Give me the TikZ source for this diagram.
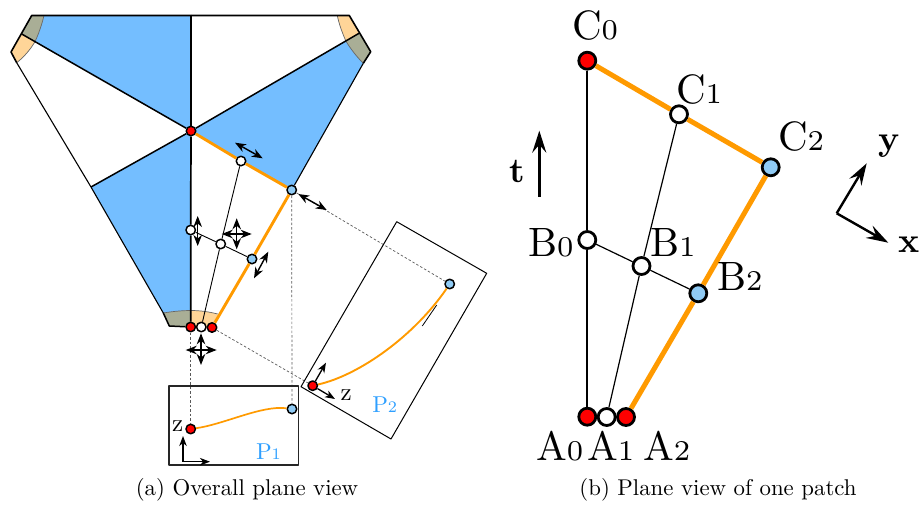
\documentclass[tikz,border=0pt]{standalone}
\usepackage{graphicx}
\usetikzlibrary{arrows.meta}
\definecolor{fanblue}{HTML}{74BEFF}
\definecolor{ptblue}{HTML}{90CBF5}
\definecolor{orangeline}{HTML}{FF9A00}
\definecolor{peach}{HTML}{FFD598}
\definecolor{grayzone}{HTML}{A9AE96}
\definecolor{labelblue}{HTML}{2E9FFF}
\tikzset{
  ptS/.style={circle,draw=black,line width=1.5pt,minimum size=9.5pt,inner sep=0pt},
  ptL/.style={circle,draw=black,line width=2.8pt,minimum size=17pt,inner sep=0pt},
  lab/.style={anchor=base west,inner sep=0pt,outer sep=0pt},
  dbl/.style={{Stealth[length=11pt,width=8.5pt,inset=3.5pt]}-{Stealth[length=11pt,width=8.5pt,inset=3.5pt]},line width=1.4pt},
  axisarrow/.style={-{Stealth[length=10pt,width=7.5pt,inset=3pt]},line width=1.3pt},
  bigarrow/.style={-{Stealth[length=22pt,width=14pt,inset=8pt]},line width=2.4pt},
  dashline/.style={dash pattern=on 2.5pt off 2pt,line width=.7pt,draw=black!65},
}
\newcommand{\biglab}[2]{\scalebox{4.1}{\fontsize{10}{10}\selectfont #1\fontsize{7}{7}\selectfont #2}}
\newcommand{\smalllab}[2]{\scalebox{2.3}{\fontsize{10}{10}\selectfont #1\fontsize{7}{7}\selectfont #2}}
\newcommand{\axislab}[1]{\scalebox{2.5}{\fontsize{10}{10}\selectfont #1}}
\newcommand{\boldlab}[1]{\scalebox{3.5}{\fontsize{10}{10}\selectfont\bfseries #1}}
\newcommand{\caplab}[1]{\scalebox{2.28}{\fontsize{10}{10}\selectfont #1}}
\begin{document}
\begin{tikzpicture}[x=1pt,y=-1pt,line join=round]
\useasboundingbox (0,0) rectangle (919,504);
% fills
\fill[fanblue] (191,131) -- (35,41.7) .. controls (39,33) and (42,24) .. (44,15.5) -- (191,15.5) -- cycle;
\fill[fanblue] (191,131) -- (345.7,40.7) .. controls (350,48) and (356,56) .. (363.3,63.3) -- (292,189.5) -- cycle;
\fill[fanblue] (191,131) -- (91,187) -- (163.3,313) .. controls (172,311.5) and (182,310.5) .. (191,310.5) -- cycle;
\fill[grayzone] (31.7,15.5) -- (21.7,34) -- (35,41.7) .. controls (39,33) and (42,24) .. (44,15.5) -- cycle;
\fill[peach] (21.7,34) -- (11,52) -- (16.7,62.7) .. controls (24,57) and (30,50) .. (35,41.7) -- cycle;
\fill[peach] (337.3,15.5) -- (349.3,15.5) -- (359,33.3) -- (345.7,40.7) .. controls (342,32) and (339,24) .. (337.3,15.5) -- cycle;
\fill[grayzone] (359,33.3) -- (370.7,51.7) -- (363.3,63.3) .. controls (356,56) and (350,48) .. (345.7,40.7) -- cycle;
\fill[grayzone] (163.3,313) -- (169.3,326) -- (191,326.7) -- (191,310.5) .. controls (182,310.5) and (172,311.5) .. (163.3,313) -- cycle;
\fill[peach] (191,310.5) -- (191,326.7) -- (212,327.5) -- (217.7,314) .. controls (208,311.5) and (199,310.5) .. (191,310.5) -- cycle;
% arc boundaries
\draw[line width=.7pt,black!60] (44,15.5) .. controls (42,24) and (39,33) .. (35,41.7);
\draw[line width=.7pt,black!60] (35,41.7) .. controls (30,50) and (24,57) .. (16.7,62.7);
\draw[line width=.7pt,black!60] (337.3,15.5) .. controls (339,24) and (342,32) .. (345.7,40.7);
\draw[line width=.7pt,black!60] (345.7,40.7) .. controls (350,48) and (356,56) .. (363.3,63.3);
\draw[line width=.7pt,black!60] (163.3,313) .. controls (172,311.5) and (182,310.5) .. (191,310.5) .. controls (199,310.5) and (208,311.5) .. (217.7,314);
% nodes of the overall view
\node[ptS,fill=red] (O) at (191,131) {};
\node[ptS,fill=white] (lC1) at (241,161) {};
\node[ptS,fill=ptblue] (lC2) at (291.7,190) {};
\node[ptS,fill=white] (lB0) at (190.7,230) {};
\node[ptS,fill=white] (lB1) at (220.7,244) {};
\node[ptS,fill=ptblue] (lB2) at (252,259) {};
\node[ptS,fill=red] (lA0) at (190.7,327) {};
\node[ptS,fill=white] (lA1) at (201.3,327) {};
\node[ptS,fill=red] (lA2) at (212,327.5) {};
\node[ptS,fill=red] (p1a) at (190.7,429) {};
\node[ptS,fill=ptblue] (p1b) at (292,409) {};
\node[ptS,fill=red] (p2a) at (312.7,385.7) {};
\node[ptS,fill=ptblue] (p2b) at (449.7,284) {};
% outline
\draw[line width=1.6pt] (191,15.5) -- (31.7,15.5) -- (11,52) -- (16.7,62.7);
\draw[line width=1.1pt] (16.7,62.7) -- (91,187) -- (163.3,313);
\draw[line width=1.5pt] (163.3,313) -- (169.3,326) -- (lA0);
\draw[line width=1.6pt] (191,15.5) -- (349.3,15.5) -- (370.7,51.7) -- (363.3,63.3);
\draw[line width=1.1pt] (363.3,63.3) -- (lC2);
\draw[line width=1.5pt] (21.7,34) -- (O);
\draw[line width=1.5pt] (359,33.3) -- (O);
\draw[line width=1.5pt] (91,187) -- (O);
\draw[line width=1.7pt] (191,15.5) -- (O);
\draw[line width=1.7pt] (O) -- (lB0) -- (lA0);
\draw[line width=.9pt] (lC1) -- (lB1) -- (lA1);
\draw[line width=.9pt] (lB0) -- (lB1) -- (lB2);
\draw[orangeline,line width=2.9pt] (O) -- (lC1) -- (lC2) -- (lB2) -- (lA2);
% dashed projections
\draw[dashline] (lA0) -- (p1a);
\draw[dashline] (lC2) -- (p1b);
\draw[dashline] (lA2) -- (p2a);
\draw[dashline] (lC2) -- (p2b);
% boxes
\node[draw=black!85,line width=1.1pt,minimum width=129.3pt,minimum height=79pt,inner sep=0pt] (boxP1) at (233.65,425.5) {};
\draw[line width=1pt] (396.7,221.7) -- (486.7,273.3) -- (391,439) -- (301,386.7) -- cycle;
\draw[line width=.8pt] (422.3,326) -- (436.7,305);
% curves
\draw[orangeline,line width=1.7pt] (p1a) .. controls (225,424) and (262,405) .. (p1b);
\draw[orangeline,line width=1.9pt] (p2a) .. controls (360,375) and (415,335) .. (p2b);
% motion arrows
\coordinate (m1a) at (235,142.7); \coordinate (m1b) at (262.7,158.3);
\coordinate (m2a) at (298.3,194); \coordinate (m2b) at (326.7,210);
\coordinate (m3a) at (268.3,251.7); \coordinate (m3b) at (254,278.3);
\coordinate (m4a) at (197.7,216); \coordinate (m4b) at (197.7,246);
\coordinate (m5a) at (221.7,234); \coordinate (m5b) at (251.7,234);
\coordinate (m6a) at (236.7,218.3); \coordinate (m6b) at (236.7,249.3);
\coordinate (m7a) at (185.7,350); \coordinate (m7b) at (216.7,350);
\coordinate (m8a) at (201,333.3); \coordinate (m8b) at (201,365);
\draw[dbl] (m1a) -- (m1b);
\draw[dbl] (m2a) -- (m2b);
\draw[dbl] (m3a) -- (m3b);
\draw[dbl] (m4a) -- (m4b);
\draw[dbl] (m5a) -- (m5b);
\draw[dbl] (m6a) -- (m6b);
\draw[dbl] (m7a) -- (m7b);
\draw[dbl] (m8a) -- (m8b);
% local axes
\coordinate (ax1) at (183,461.7); \coordinate (ax1y) at (183,436); \coordinate (ax1x) at (210,461.7);
\draw[axisarrow] (ax1) -- (ax1y);
\draw[axisarrow] (ax1) -- (ax1x);
\coordinate (ax2y) at (326,362.7); \coordinate (ax2x) at (335,399);
\draw[axisarrow] (p2a) -- (ax2y);
\draw[axisarrow] (p2a) -- (ax2x);
\node[lab] (z1) at (172.2,431.7) {\axislab{z}};
\node[lab] (z2) at (340.7,400.7) {\axislab{z}};
\node[lab,text=labelblue] (P1) at (256,459) {\smalllab{P}{1}};
\node[lab,text=labelblue] (P2) at (372.3,412.3) {\smalllab{P}{2}};
% right diagram
\node[ptL,fill=red] (C0) at (587.3,60.7) {};
\node[ptL,fill=white] (C1) at (679,114.3) {};
\node[ptL,fill=ptblue] (C2) at (770.7,167.3) {};
\node[ptL,fill=white] (B0) at (587.3,240) {};
\node[ptL,fill=white] (B1) at (641.5,266) {};
\node[ptL,fill=ptblue] (B2) at (698.3,293.3) {};
\node[ptL,fill=red] (A0) at (587.3,416.7) {};
\node[ptL,fill=white] (A1) at (606.7,417) {};
\node[ptL,fill=red] (A2) at (626,417) {};
\draw[line width=1.8pt] (C0) -- (B0) -- (A0);
\draw[line width=1.2pt] (C1) -- (B1) -- (A1);
\draw[line width=1.2pt] (B0) -- (B1) -- (B2);
\draw[orangeline,line width=5pt] (C0) -- (C1) -- (C2) -- (B2) -- (A2);
\node[lab] (lbC0) at (572,39) {\biglab{C}{0}};
\node[lab] (lbC1) at (676,103) {\biglab{C}{1}};
\node[lab] (lbC2) at (778,150) {\biglab{C}{2}};
\node[lab] (lbB0) at (528,256) {\biglab{B}{0}};
\node[lab] (lbB1) at (650,256) {\biglab{B}{1}};
\node[lab] (lbB2) at (717,290.7) {\biglab{B}{2}};
\node[lab] (lbA0) at (536,460) {\biglab{A}{0}};
\node[lab] (lbA1) at (587,460) {\biglab{A}{1}};
\node[lab] (lbA2) at (643,460) {\biglab{A}{2}};
\coordinate (tA) at (539.3,196.7); \coordinate (tB) at (539.3,130.7);
\draw[bigarrow] (tA) -- (tB);
\node[lab] (t) at (509,182.5) {\boldlab{t}};
\coordinate (xy) at (836.7,213.3); \coordinate (yy) at (866.7,163.3); \coordinate (xx) at (888.3,242.7);
\draw[bigarrow] (xy) -- (yy);
\draw[bigarrow] (xy) -- (xx);
\node[lab] (ylab) at (878,150) {\boldlab{y}};
\node[lab] (xlab) at (898,252) {\boldlab{x}};
% captions
\node[anchor=base] (capa) at (247,495) {\caplab{(a) Overall plane view}};
\node[anchor=base] (capb) at (718,495) {\caplab{(b) Plane view of one patch}};
\end{tikzpicture}
\end{document}
